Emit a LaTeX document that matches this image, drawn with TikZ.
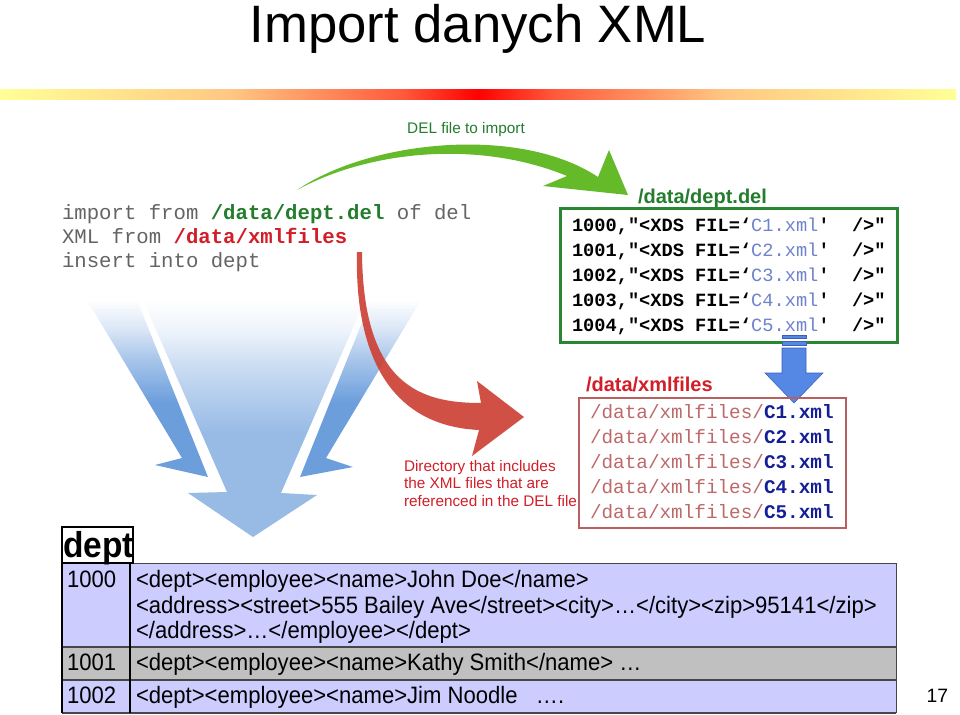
\documentclass[tikz,border=0pt]{standalone}
\usepackage{fontspec}
\setmainfont{Liberation Sans}
\setmonofont{Liberation Mono}
\newfontfamily\tabfont[FakeStretch=0.93]{Liberation Sans}
\definecolor{delgreen}{RGB}{35,125,45}
\definecolor{boxgreen}{RGB}{40,135,50}
\definecolor{xmlred}{RGB}{210,30,40}
\definecolor{cmdgray}{RGB}{100,100,100}
\definecolor{fileblue}{RGB}{110,130,205}
\definecolor{navy}{RGB}{20,30,150}
\definecolor{pathred}{RGB}{190,105,105}
\definecolor{boxred}{RGB}{185,95,95}
\definecolor{lav}{RGB}{204,204,255}
\definecolor{rowgray}{RGB}{192,192,192}
\definecolor{arrowblue}{RGB}{152,187,230}
\definecolor{sideblue}{RGB}{108,158,220}
\definecolor{bigred}{RGB}{205,62,50}
\definecolor{biggreen}{RGB}{100,186,40}
\definecolor{smallblue}{RGB}{85,135,228}
\definecolor{smallblueedge}{RGB}{60,95,190}
\definecolor{lyel}{RGB}{255,255,150}
\definecolor{lorange}{RGB}{255,200,130}
\definecolor{orred}{RGB}{255,90,60}
\definecolor{rulegray}{RGB}{70,70,70}
% TikZ maps a path's bounding box onto the 25bp..75bp part of a shading
\pgfdeclarehorizontalshading{barshade}{100bp}{color(0bp)=(lyel); color(25bp)=(lyel); color(37bp)=(lorange); color(46bp)=(orred); color(50bp)=(red); color(54bp)=(orred); color(63bp)=(lorange); color(75bp)=(lyel); color(100bp)=(lyel)}
\pgfdeclareverticalshading{fadeblue}{100bp}{color(0bp)=(arrowblue); color(47bp)=(arrowblue); color(60bp)=(arrowblue!55); color(69bp)=(arrowblue!15); color(75bp)=(white); color(100bp)=(white)}
\pgfdeclareverticalshading{fadeside}{100bp}{color(0bp)=(sideblue); color(46bp)=(sideblue); color(58bp)=(sideblue!60); color(67bp)=(sideblue!25); color(75bp)=(white); color(100bp)=(white)}
\tikzset{
  cmd/.style={anchor=base west, font=\fontsize{15.5}{18}\selectfont\ttfamily, text=cmdgray},
  delline/.style={anchor=base west, font=\fontsize{14}{16}\selectfont\ttfamily},
  xmlline/.style={anchor=base west, font=\fontsize{14.5}{17}\selectfont\ttfamily},
  heading/.style={anchor=base west, font=\fontsize{15}{18}\selectfont\bfseries},
  note/.style={anchor=base west, font=\fontsize{11.5}{14}\selectfont, text=xmlred},
  tabtxt/.style={anchor=base west, font=\fontsize{17.8}{20}\selectfont\tabfont},
}
\newcommand{\sq}{\symbol{39}}
\newcommand{\dq}{\symbol{34}}
\newcommand{\delrow}[2]{{\bfseries #1,\dq<XDS FIL=‘}{\color{fileblue}C#2.xml}{\bfseries\sq\ \ />\dq}}
\begin{document}
\begin{tikzpicture}[x=0.75pt,y=-0.75pt, inner sep=0pt, outer sep=0pt]
\useasboundingbox (0,0) rectangle (960,714);
\fill[white] (0,0) rectangle (960,714);

% title and rule
\node[anchor=base, font=\fontsize{39.5}{48}\selectfont] (title) at (478,42) {Import danych XML};
\shade[shading=barshade] (0,89) rectangle (956,99);

% big blue arrows
\shade[shading=fadeblue] (143,300) -- (227,492) -- (188,493) -- (253,537) -- (317,495) -- (281,493) -- (365,300) -- cycle;
\shade[shading=fadeside] (87,300) -- (182,458) -- (155,465) -- (208,477) -- (137,300) -- cycle;
\shade[shading=fadeside] (421,300) -- (326,458) -- (353,467) -- (300,477) -- (371,300) -- cycle;

% command text
\node[cmd] (cmd1) at (62,219) {import from {\bfseries\color{delgreen}/data/dept.del} of del};
\node[cmd] (cmd2) at (62,243) {XML from {\bfseries\color{xmlred}/data/xmlfiles}};
\node[cmd] (cmd3) at (62,267) {insert into dept};

% red curved arrow
\fill[bigred, opacity=0.9] (357,252) .. controls (355,330) and (375,425) .. (479,430)
  -- (472,456) -- (524,417) -- (477,381) -- (481,403)
  .. controls (420,403) and (363,385) .. (362,252) -- cycle;

% green curved arrow
\fill[biggreen] (297,190) .. controls (370,140) and (520,125) .. (598,177)
  -- (609,150) -- (628,195) -- (543,186) -- (567,176)
  .. controls (480,140) and (370,150) .. (297,190) -- cycle;
\node[anchor=base, font=\fontsize{11.5}{14}\selectfont, text=delgreen] (dellabel) at (466,133) {DEL file to import};

% DEL file box
\node[heading, text=delgreen] (delhead) at (638,203) {/data/dept.del};
\draw[boxgreen, line width=2.25pt] (560,208) rectangle (897,342);
\node[delline] (d1) at (572,231) {\delrow{1000}{1}};
\node[delline] (d2) at (572,256) {\delrow{1001}{2}};
\node[delline] (d3) at (572,281) {\delrow{1002}{3}};
\node[delline] (d4) at (572,306) {\delrow{1003}{4}};
\node[delline] (d5) at (572,331) {\delrow{1004}{5}};

% small blue arrow
\begin{scope}[fill=smallblue, draw=smallblueedge, line width=0.4pt]
\filldraw (782,335) rectangle (806,338);
\filldraw (782,341) rectangle (806,345);
\filldraw (782,348) -- (806,348) -- (806,373) -- (823,373) -- (794,403) -- (765,373) -- (782,373) -- cycle;
\end{scope}

% XML files box
\node[heading, text=xmlred] (xmlhead) at (586,391) {/data/xmlfiles};
\draw[boxred, line width=0.8pt] (579,398) rectangle (846,528);
\foreach \i/\y in {1/418,2/443,3/468,4/493,5/518}{
  \node[xmlline] (x\i) at (590,\y) {{\color{pathred}/data/xmlfiles/}{\bfseries\color{navy}C\i.xml}};
}

% note
\node[note] (n1) at (404,471) {Directory that includes};
\node[note] (n2) at (404,488.5) {the XML files that are};
\node[note] (n3) at (404,506) {referenced in the DEL file};

% table
\fill[lav] (62,563) rectangle (896,647);
\fill[rowgray] (62,647) rectangle (896,680);
\fill[lav] (62,680) rectangle (896,713);
\draw[rulegray, line width=0.6pt] (62,563) -- (896,563);
\draw[rulegray, line width=1.5pt] (62,647) -- (896,647);
\draw[rulegray, line width=1.5pt] (62,680) -- (896,680);
\draw[rulegray, line width=0.8pt] (62,713) -- (896,713);
\draw[black, line width=0.8pt] (62,563) -- (62,713);
\draw[black, line width=0.8pt] (130,563) -- (130,713);
\draw[rulegray, line width=0.6pt] (896,563) -- (896,713);
\draw[black, line width=1pt, fill=white] (62,527) rectangle (133,563);
\node[anchor=base west, font=\fontsize{27}{30}\selectfont\tabfont\bfseries] (dept) at (63,557) {dept};

\node[tabtxt] (k0) at (67,587) {1000};
\node[tabtxt] (r0a) at (136,587) {<dept><employee><name>John Doe</name>};
\node[tabtxt] (r0b) at (136,613) {<address><street>555 Bailey Ave</street><city>…</city><zip>95141</zip>};
\node[tabtxt] (r0c) at (136,638) {</address>…</employee></dept>};
\node[tabtxt] (k1) at (67,670) {1001};
\node[tabtxt] (r1) at (136,670) {<dept><employee><name>Kathy Smith</name> …};
\node[tabtxt] (k2) at (67,703) {1002};
\node[tabtxt] (r2) at (136,703) {<dept><employee><name>Jim Noodle \ \ ….};

% page number
\node[anchor=base east, font=\fontsize{14.5}{17}\selectfont] (pageno) at (948,702) {17};
\end{tikzpicture}
\end{document}
